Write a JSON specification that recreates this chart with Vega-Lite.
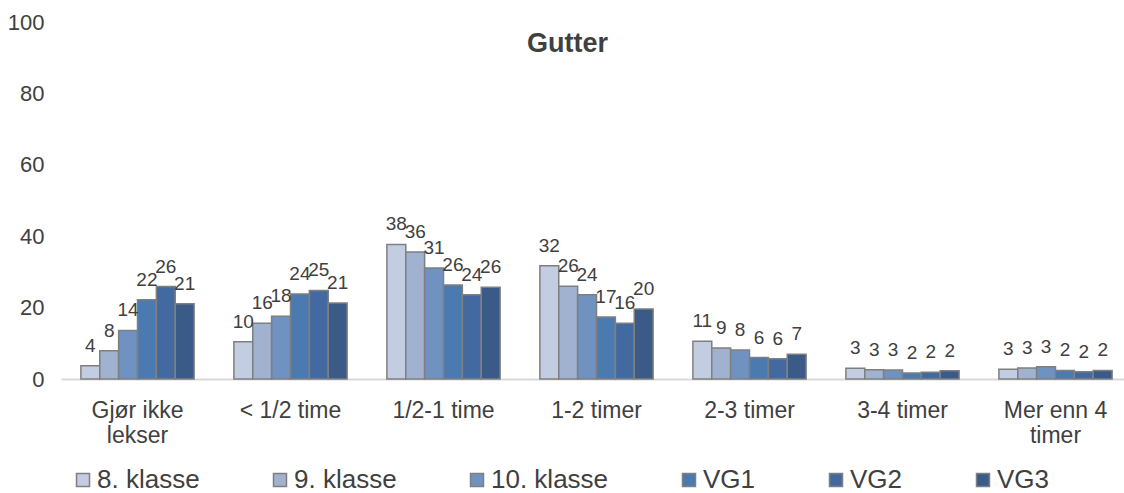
{
  "$schema": "https://vega.github.io/schema/vega-lite/v6.json",
  "width": 1063,
  "height": 357,
  "autosize": {"type": "none"},
  "padding": {"left": 61, "top": 22, "right": 0, "bottom": 114},
  "background": "white",
  "title": {
    "text": "Gutter",
    "font": "Liberation Sans",
    "fontSize": 27,
    "fontWeight": "bold",
    "color": "#404040",
    "anchor": "middle",
    "frame": "group",
    "baseline": "alphabetic",
    "offset": -68,
    "dx": -25
  },
  "config": {
    "view": {"stroke": null},
    "font": "Liberation Sans"
  },
  "data": {
    "values": [
      {"kategori": "Gjør ikke lekser", "trinn": "8. klasse", "verdi": 3.7},
      {"kategori": "Gjør ikke lekser", "trinn": "9. klasse", "verdi": 7.9},
      {"kategori": "Gjør ikke lekser", "trinn": "10. klasse", "verdi": 13.6},
      {"kategori": "Gjør ikke lekser", "trinn": "VG1", "verdi": 22.2},
      {"kategori": "Gjør ikke lekser", "trinn": "VG2", "verdi": 25.9},
      {"kategori": "Gjør ikke lekser", "trinn": "VG3", "verdi": 21.1},
      {"kategori": "< 1/2 time", "trinn": "8. klasse", "verdi": 10.4},
      {"kategori": "< 1/2 time", "trinn": "9. klasse", "verdi": 15.6},
      {"kategori": "< 1/2 time", "trinn": "10. klasse", "verdi": 17.6},
      {"kategori": "< 1/2 time", "trinn": "VG1", "verdi": 23.8},
      {"kategori": "< 1/2 time", "trinn": "VG2", "verdi": 24.8},
      {"kategori": "< 1/2 time", "trinn": "VG3", "verdi": 21.3},
      {"kategori": "1/2-1 time", "trinn": "8. klasse", "verdi": 37.7},
      {"kategori": "1/2-1 time", "trinn": "9. klasse", "verdi": 35.6},
      {"kategori": "1/2-1 time", "trinn": "10. klasse", "verdi": 31.1},
      {"kategori": "1/2-1 time", "trinn": "VG1", "verdi": 26.3},
      {"kategori": "1/2-1 time", "trinn": "VG2", "verdi": 23.6},
      {"kategori": "1/2-1 time", "trinn": "VG3", "verdi": 25.7},
      {"kategori": "1-2 timer", "trinn": "8. klasse", "verdi": 31.7},
      {"kategori": "1-2 timer", "trinn": "9. klasse", "verdi": 26.0},
      {"kategori": "1-2 timer", "trinn": "10. klasse", "verdi": 23.6},
      {"kategori": "1-2 timer", "trinn": "VG1", "verdi": 17.4},
      {"kategori": "1-2 timer", "trinn": "VG2", "verdi": 15.6},
      {"kategori": "1-2 timer", "trinn": "VG3", "verdi": 19.6},
      {"kategori": "2-3 timer", "trinn": "8. klasse", "verdi": 10.6},
      {"kategori": "2-3 timer", "trinn": "9. klasse", "verdi": 8.7},
      {"kategori": "2-3 timer", "trinn": "10. klasse", "verdi": 8.1},
      {"kategori": "2-3 timer", "trinn": "VG1", "verdi": 6.0},
      {"kategori": "2-3 timer", "trinn": "VG2", "verdi": 5.7},
      {"kategori": "2-3 timer", "trinn": "VG3", "verdi": 6.9},
      {"kategori": "3-4 timer", "trinn": "8. klasse", "verdi": 3.0},
      {"kategori": "3-4 timer", "trinn": "9. klasse", "verdi": 2.6},
      {"kategori": "3-4 timer", "trinn": "10. klasse", "verdi": 2.5},
      {"kategori": "3-4 timer", "trinn": "VG1", "verdi": 1.7},
      {"kategori": "3-4 timer", "trinn": "VG2", "verdi": 1.9},
      {"kategori": "3-4 timer", "trinn": "VG3", "verdi": 2.3},
      {"kategori": "Mer enn 4 timer", "trinn": "8. klasse", "verdi": 2.7},
      {"kategori": "Mer enn 4 timer", "trinn": "9. klasse", "verdi": 3.1},
      {"kategori": "Mer enn 4 timer", "trinn": "10. klasse", "verdi": 3.4},
      {"kategori": "Mer enn 4 timer", "trinn": "VG1", "verdi": 2.4},
      {"kategori": "Mer enn 4 timer", "trinn": "VG2", "verdi": 2.0},
      {"kategori": "Mer enn 4 timer", "trinn": "VG3", "verdi": 2.4}
    ]
  },
  "encoding": {
    "x": {
      "field": "kategori",
      "type": "nominal",
      "sort": null,
      "scale": {"range": [0, 1071], "paddingInner": 0.26, "paddingOuter": 0.13},
      "axis": {
        "title": null,
        "labelAngle": 0,
        "labelFont": "Liberation Sans",
        "labelFontSize": 23,
        "labelColor": "#404040",
        "labelPadding": 20,
        "labelLineHeight": 25,
        "labelBaseline": "top",
        "ticks": false,
        "domainColor": "#D9D9D9",
        "domainWidth": 2,
        "labelExpr": "datum.value == 'Gjør ikke lekser' ? ['Gjør ikke', 'lekser'] : datum.value == 'Mer enn 4 timer' ? ['Mer enn 4', 'timer'] : datum.value"
      }
    },
    "xOffset": {
      "field": "trinn",
      "type": "nominal",
      "sort": ["8. klasse", "9. klasse", "10. klasse", "VG1", "VG2", "VG3"],
      "scale": {"paddingInner": 0, "paddingOuter": 0}
    },
    "y": {
      "field": "verdi",
      "type": "quantitative",
      "scale": {"domain": [0, 100], "nice": false},
      "axis": {
        "title": null,
        "values": [0, 20, 40, 60, 80, 100],
        "grid": false,
        "domain": false,
        "ticks": false,
        "labelFont": "Liberation Sans",
        "labelFontSize": 22,
        "labelColor": "#404040",
        "labelPadding": 17
      }
    }
  },
  "layer": [
    {
      "mark": {"type": "bar", "stroke": "#7F7F7F", "strokeWidth": 1.5},
      "encoding": {
        "color": {
          "field": "trinn",
          "type": "nominal",
          "scale": {
            "domain": ["8. klasse", "9. klasse", "10. klasse", "VG1", "VG2", "VG3"],
            "range": ["#C3CDE1", "#A1B2D0", "#7092C0", "#4A7AB0", "#426AA0", "#3A5A88"]
          },
          "legend": {
            "orient": "none",
            "legendX": 9,
            "legendY": 445,
            "direction": "horizontal",
            "title": null,
            "padding": 0,
            "symbolType": "square",
            "symbolSize": 169,
            "symbolStrokeColor": "#7F7F7F",
            "symbolStrokeWidth": 1.5,
            "symbolOpacity": 1,
            "labelFont": "Liberation Sans",
            "labelFontSize": 26,
            "labelColor": "#404040",
            "labelOffset": 1,
            "columnPadding": 67,
            "labelLimit": 300
          }
        }
      }
    },
    {
      "mark": {
        "type": "text",
        "baseline": "alphabetic",
        "dy": -14,
        "font": "Liberation Sans",
        "fontSize": 19,
        "color": "#404040"
      },
      "encoding": {
        "text": {"field": "verdi", "type": "quantitative", "format": ".0f"}
      }
    }
  ]
}
